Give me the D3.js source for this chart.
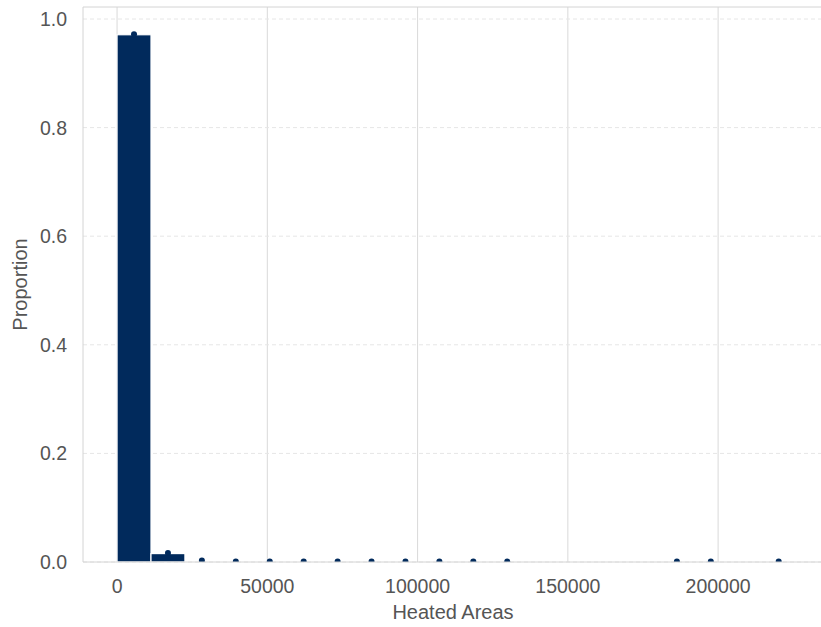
<!DOCTYPE html>
<html><head><meta charset="utf-8">
<script src="https://cdn.jsdelivr.net/npm/d3@7"></script>
<style>body{margin:0;background:#fff;} svg{display:block;}</style>
</head><body>
<script>
const binWidth = 11290;
const binStarts = [0,11290,22580,33870,45160,56450,67740,79030,90320,101610,112900,124190,135480,146770,158060,169350,180640,191930,203220,214510];
const proportions = [0.971,0.0155,0.002,0.0002,0.0002,0.0002,0.0002,0.0002,0.0002,0.0002,0.0002,0.0002,0,0,0,0,0.0002,0.0002,0,0.0002];
const xTicks = [0,50000,100000,150000,200000];
const yTicks = [0.0,0.2,0.4,0.6,0.8,1.0];

const W = 821, H = 627;
const m = {left:83, right:-2, top:7, bottom:65};
const svg = d3.select("body").append("svg").attr("width",W).attr("height",H);
const x = d3.scaleLinear().domain([-11333, 234900]).range([m.left, W - m.right]);
const y = d3.scaleLinear().domain([0, 1.0221]).range([H - m.bottom, m.top]);

const font = "'Liberation Sans', Arial, sans-serif";
const defs = svg.append("defs");
defs.append("clipPath").attr("id","clip").append("rect")
  .attr("x",m.left).attr("y",m.top).attr("width",W-m.right-m.left).attr("height",H-m.bottom-m.top);

// grid
svg.append("g").selectAll("line").data(xTicks).join("line")
  .attr("x1",d=>x(d)).attr("x2",d=>x(d)).attr("y1",m.top).attr("y2",H-m.bottom)
  .attr("stroke","#d9d9d9").attr("stroke-width",1);
svg.append("g").selectAll("line").data(yTicks).join("line")
  .attr("x1",m.left).attr("x2",W-m.right).attr("y1",d=>y(d)).attr("y2",d=>y(d))
  .attr("stroke","#e6e6e6").attr("stroke-width",1).attr("stroke-dasharray","4,3");

const data = binStarts.map((s,i)=>({x0:s, x1:s+binWidth, v:proportions[i]}));
const g = svg.append("g").attr("clip-path","url(#clip)");
g.selectAll("rect").data(data.filter(d=>d.v>0.005)).join("rect")
  .attr("x",d=>x(d.x0)).attr("width",d=>x(d.x1)-x(d.x0))
  .attr("y",d=>y(d.v)).attr("height",d=>y(0)-y(d.v))
  .attr("fill","#012a5c").attr("stroke","#fff").attr("stroke-width",1.2);

// frame
svg.append("path").attr("d",`M${m.left},${H-m.bottom}V${m.top}H${W-m.right}`)
  .attr("fill","none").attr("stroke","#d4d4d4").attr("stroke-width",1);
svg.append("line").attr("x1",m.left).attr("x2",W-m.right).attr("y1",y(0)).attr("y2",y(0))
  .attr("stroke","#d4d4d4").attr("stroke-width",1);

g.selectAll("circle").data(data.filter(d=>d.v>0)).join("circle")
  .attr("cx",d=>x((d.x0+d.x1)/2)).attr("cy",d=>y(d.v)-0.5).attr("r",3)
  .attr("fill","#012a5c");

// ticks
svg.append("g").selectAll("text").data(xTicks).join("text")
  .attr("x",d=>x(d)).attr("y",593).attr("text-anchor","middle")
  .attr("font-family",font).attr("font-size",19.5).attr("fill","#555")
  .text(d=>d3.format("d")(d));
svg.append("g").selectAll("text").data(yTicks).join("text")
  .attr("x",67).attr("y",d=>y(d)+7).attr("text-anchor","end")
  .attr("font-family",font).attr("font-size",19.5).attr("fill","#555")
  .text(d=>d3.format(".1f")(d));

svg.append("text").attr("x",(m.left+W-m.right)/2).attr("y",619).attr("text-anchor","middle")
  .attr("font-family",font).attr("font-size",20).attr("fill","#555").text("Heated Areas");
svg.append("text").attr("transform",`translate(27,${(m.top+H-m.bottom)/2}) rotate(-90)`)
  .attr("text-anchor","middle").attr("font-family",font).attr("font-size",20).attr("fill","#555").text("Proportion");
</script>
</body></html>
